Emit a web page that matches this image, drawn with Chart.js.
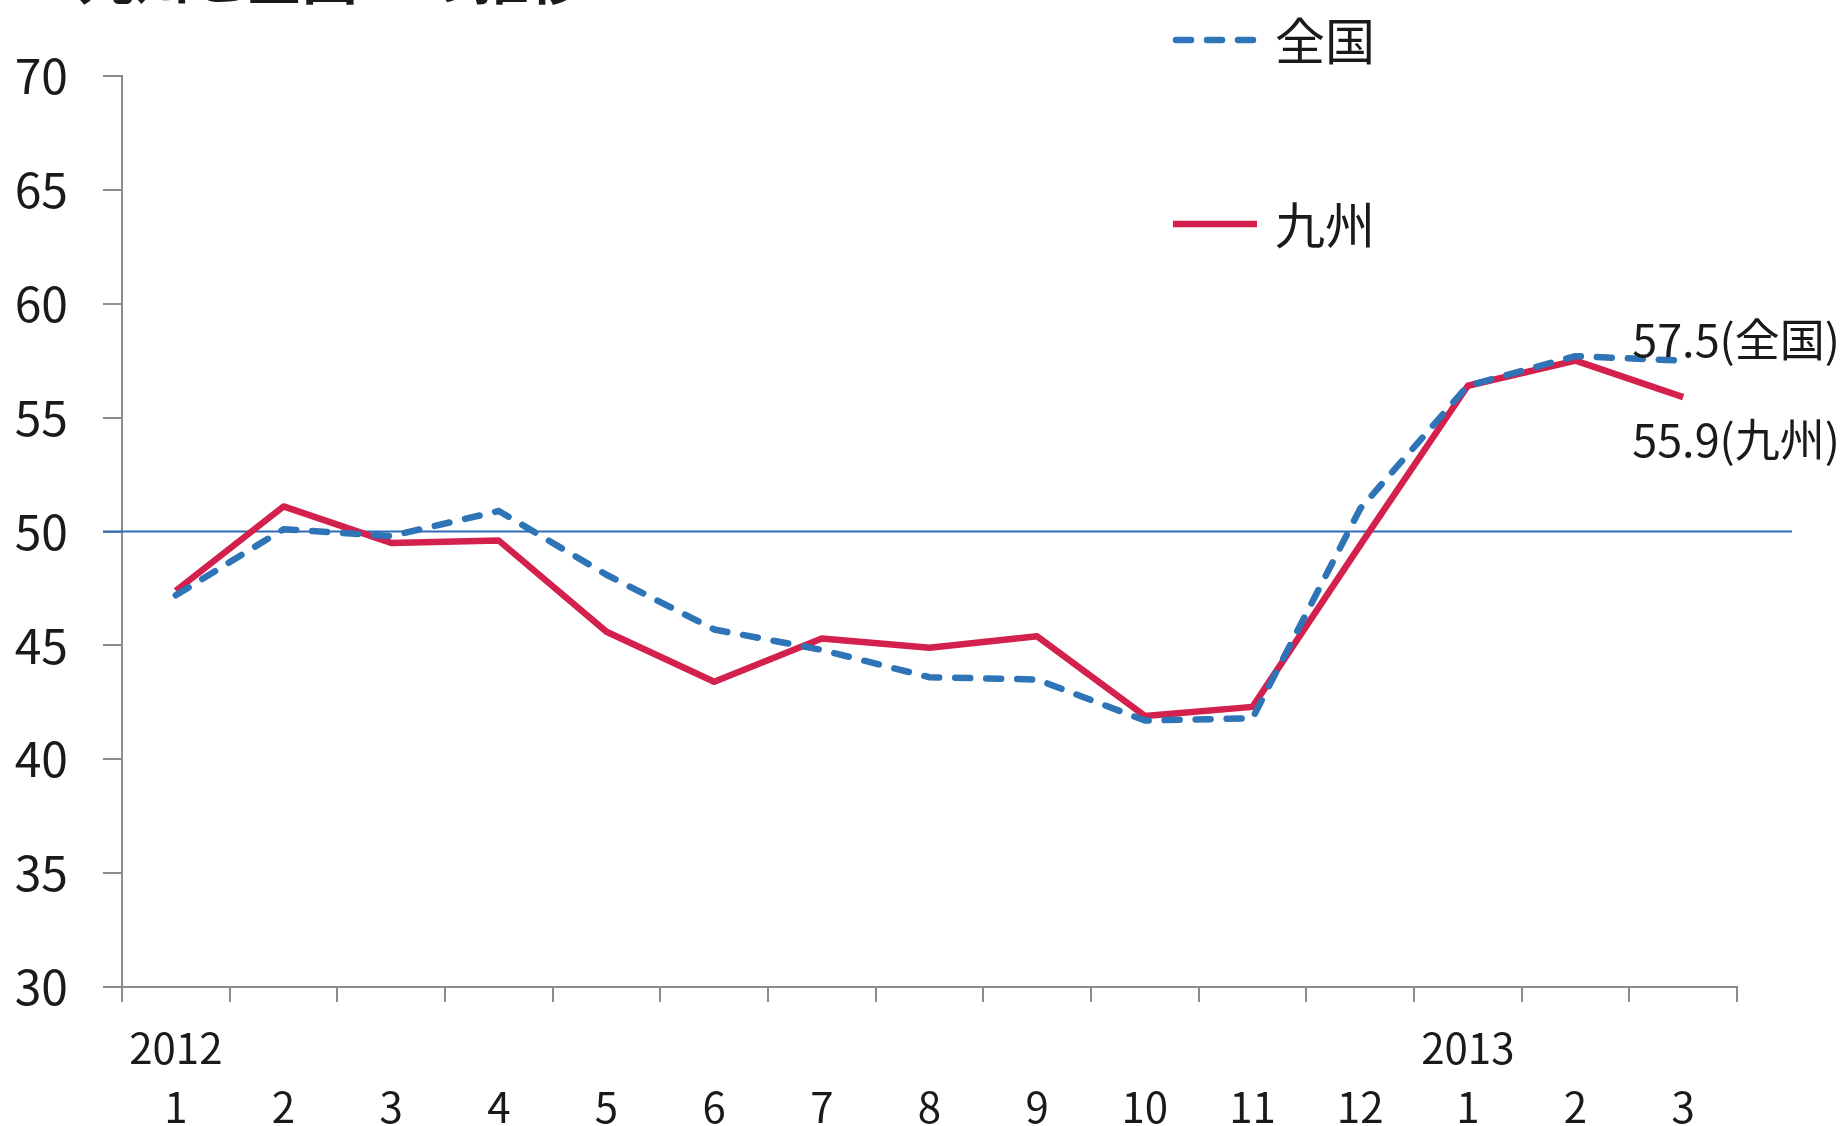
<!DOCTYPE html>
<html lang="ja">
<head>
<meta charset="utf-8">
<title>九州と全国DIの推移</title>
<script src="https://cdn.jsdelivr.net/npm/chart.js@4.4.1/dist/chart.umd.min.js"></script>
<style>
  html, body { margin: 0; padding: 0; background: #ffffff; }
  #wrap { width: 1845px; height: 1126px; position: relative; overflow: hidden; }
</style>
</head>
<body>
<div id="wrap"><canvas id="chart-di" width="1845" height="1126"></canvas></div>
<script>
(function () {
  "use strict";

  // data
  var titleText = "九州と全国DIの推移";
  var months = ["1", "2", "3", "4", "5", "6", "7", "8", "9", "10", "11", "12", "1", "2", "3"];
  var years = ["2012", "", "", "", "", "", "", "", "", "", "", "", "2013", "", ""];
  var seriesNames = ["全国", "九州"];
  var zenkoku = [47.2, 50.1, 49.8, 50.9, 48.1, 45.7, 44.8, 43.6, 43.5, 41.7, 41.8, 51.0, 56.4, 57.7, 57.5];
  var kyushu = [47.4, 51.1, 49.5, 49.6, 45.6, 43.4, 45.3, 44.9, 45.4, 41.9, 42.3, 49.4, 56.4, 57.5, 55.9];
  var baseValue = 50;

  var FONT = "'Noto Sans CJK JP', 'Noto Sans', sans-serif";
  var TEXT = "#1a1a1a";
  var AXIS = "#8c8c8c";
  var BLUE = "#2e74b6";
  var RED = "#d3204c";

  var labels = months.map(function (m, i) { return [years[i], m]; });

  // thin reference line at 50, running past the plot on both sides
  var baseLinePlugin = {
    id: "baseLine",
    beforeDatasetsDraw: function (chart) {
      var ctx = chart.ctx;
      var y = chart.scales.y.getPixelForValue(baseValue);
      var area = chart.chartArea;
      ctx.save();
      ctx.strokeStyle = "#2f6cb8";
      ctx.lineWidth = 2;
      ctx.beginPath();
      ctx.moveTo(area.left - 19, y);
      ctx.lineTo(area.right + 55, y);
      ctx.stroke();
      ctx.restore();
    }
  };

  // legend block at the top right, plus title and end-of-line value labels
  var decorPlugin = {
    id: "decor",
    afterDraw: function (chart) {
      var ctx = chart.ctx;
      ctx.save();

      ctx.fillStyle = TEXT;
      ctx.font = "bold 56px " + FONT;
      ctx.textAlign = "left";
      ctx.textBaseline = "bottom";
      ctx.fillText(titleText, 78, 6);

      var rows = [40, 224];
      chart.data.datasets.forEach(function (ds, i) {
        var y = rows[i];
        ctx.strokeStyle = ds.borderColor;
        ctx.lineWidth = ds.borderWidth;
        ctx.lineCap = ds.borderCapStyle || "butt";
        ctx.setLineDash(ds.borderDash || []);
        ctx.beginPath();
        ctx.moveTo(ds.borderDash ? 1176 : 1173, y);
        ctx.lineTo(ds.borderDash ? 1254 : 1257, y);
        ctx.stroke();
        ctx.setLineDash([]);
        ctx.fillStyle = TEXT;
        ctx.font = "50px " + FONT;
        ctx.textBaseline = "middle";
        ctx.fillText(ds.label, 1275, y + 1);
      });

      var offsets = [-21, 43];
      chart.data.datasets.forEach(function (ds, i) {
        var meta = chart.getDatasetMeta(i);
        var last = meta.data[meta.data.length - 1];
        var value = ds.data[ds.data.length - 1];
        ctx.fillStyle = TEXT;
        ctx.font = "45px " + FONT;
        ctx.textAlign = "left";
        ctx.textBaseline = "middle";
        ctx.fillText(value.toFixed(1) + "(" + ds.label + ")", last.x - 51, last.y + offsets[i]);
      });

      ctx.restore();
    }
  };

  function build() {
    new Chart(document.getElementById("chart-di"), {
      type: "line",
      data: {
        labels: labels,
        datasets: [{
          label: seriesNames[0],
          data: zenkoku,
          borderColor: BLUE,
          borderWidth: 6.5,
          borderDash: [15, 16],
          borderCapStyle: "round",
          borderJoinStyle: "round",
          pointRadius: 0,
          tension: 0,
          fill: false
        }, {
          label: seriesNames[1],
          data: kyushu,
          borderColor: RED,
          borderWidth: 6.5,
          borderJoinStyle: "round",
          pointRadius: 0,
          tension: 0,
          fill: false
        }]
      },
      options: {
        responsive: false,
        animation: false,
        layout: { padding: { top: 76, right: 108, left: 0, bottom: 0 } },
        plugins: {
          legend: { display: false },
          tooltip: { enabled: false }
        },
        scales: {
          x: {
            type: "category",
            offset: true,
            grid: {
              offset: true,
              drawOnChartArea: false,
              drawTicks: true,
              tickLength: 15,
              color: AXIS,
              lineWidth: 2
            },
            border: { display: true, color: AXIS, width: 2 },
            ticks: {
              autoSkip: false,
              maxRotation: 0,
              padding: 16,
              color: TEXT,
              font: { family: FONT, size: 42, lineHeight: 1.42 }
            },
            afterFit: function (scale) { scale.height = 139; }
          },
          y: {
            min: 30,
            max: 70,
            grid: {
              drawOnChartArea: false,
              drawTicks: true,
              tickLength: 19,
              color: AXIS,
              lineWidth: 2
            },
            border: { display: true, color: AXIS, width: 2 },
            ticks: {
              stepSize: 5,
              padding: 35,
              color: TEXT,
              font: { family: FONT, size: 48 }
            },
            afterFit: function (scale) { scale.width = 122; }
          }
        }
      },
      plugins: [baseLinePlugin, decorPlugin]
    });
  }

  if (document.fonts && document.fonts.load) {
    Promise.all([
      document.fonts.load("47px 'Noto Sans CJK JP'", "0123456789全国九州"),
      document.fonts.load("bold 56px 'Noto Sans CJK JP'", titleText)
    ]).then(build, build);
  } else {
    build();
  }
})();
</script>
</body>
</html>
